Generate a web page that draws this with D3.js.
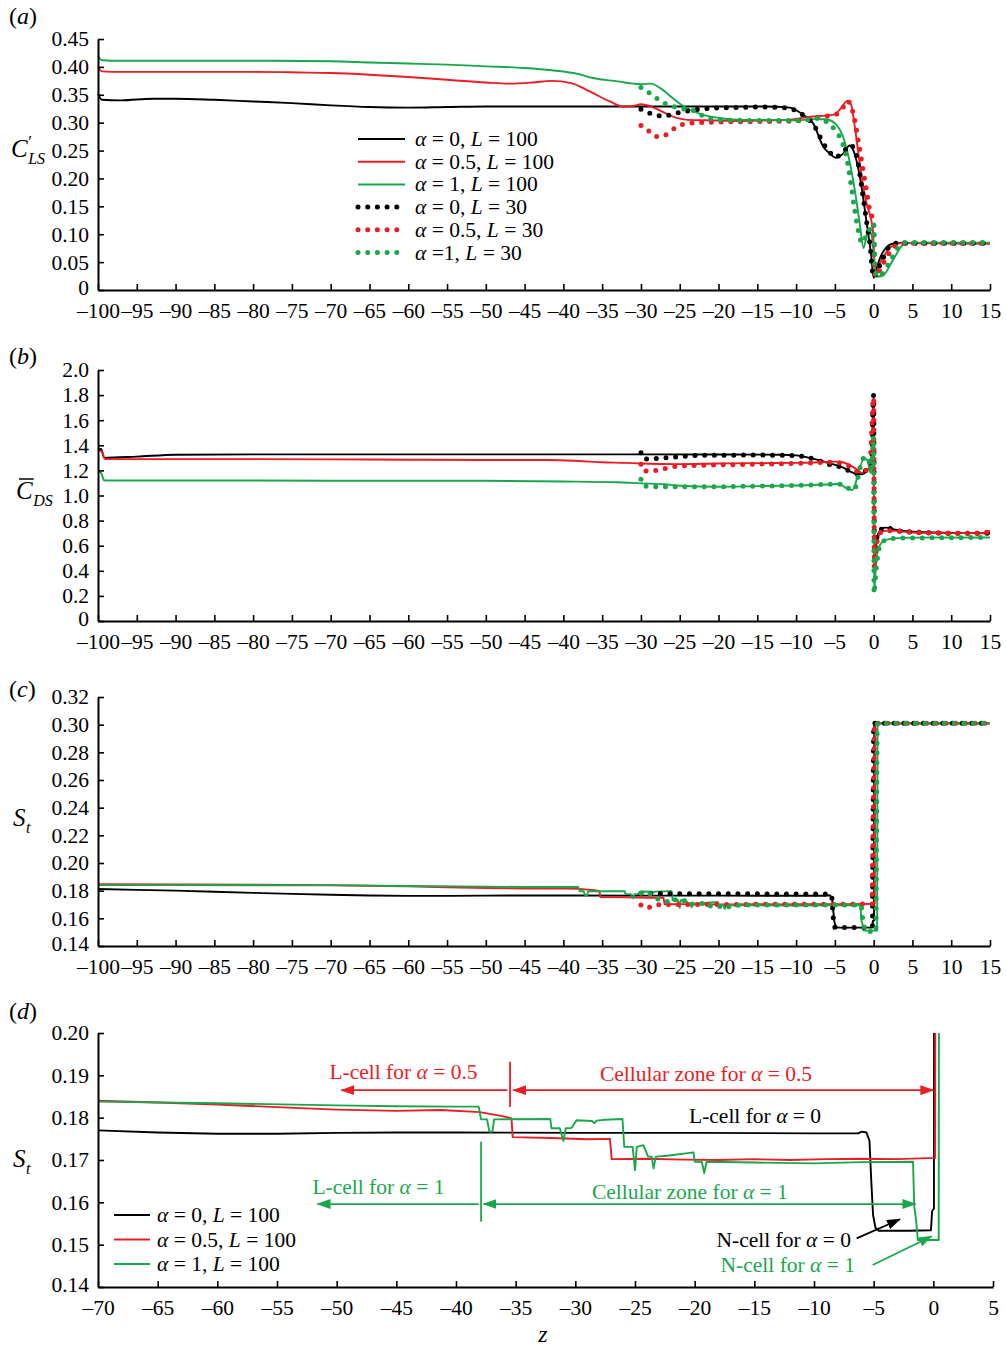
<!DOCTYPE html>
<html><head><meta charset="utf-8">
<script src="https://cdn.jsdelivr.net/npm/d3@7"></script>
<style>
body{margin:0;background:#fff;}
svg text{font-family:"Liberation Serif","Times New Roman",serif;white-space:pre;}
</style></head><body>
<svg id="c" width="1006" height="1347"></svg>
<script>
// ---------------- DATA ----------------
const xTicksLong = [-100,-95,-90,-85,-80,-75,-70,-65,-60,-55,-50,-45,-40,-35,-30,-25,-20,-15,-10,-5,0,5,10,15];
const xTicksD = [-70,-65,-60,-55,-50,-45,-40,-35,-30,-25,-20,-15,-10,-5,0,5];
const yTicksA = [0,0.05,0.10,0.15,0.20,0.25,0.30,0.35,0.40,0.45];
const yTicksB = [0,0.2,0.4,0.6,0.8,1.0,1.2,1.4,1.6,1.8,2.0];
const yTicksC = [0.14,0.16,0.18,0.20,0.22,0.24,0.26,0.28,0.30,0.32];
const yTicksD = [0.14,0.15,0.16,0.17,0.18,0.19,0.20];

const legendA = ["*α* = 0, *L* = 100","*α* = 0.5, *L* = 100","*α* = 1, *L* = 100","*α* = 0, *L* = 30","*α* = 0.5, *L* = 30","*α* =1, *L* = 30"];
const legendD = ["*α* = 0, *L* = 100","*α* = 0.5, *L* = 100","*α* = 1, *L* = 100"];

// (a) C'_LS
const clA0L100 = [[-100,0.352],[-99.5,0.341],[-97,0.340],[-93,0.343],[-90,0.343],[-85,0.341],[-80,0.338],[-75,0.335],[-70,0.331],[-65,0.328],[-60,0.327],[-55,0.328],[-50,0.329],[-45,0.329],[-40,0.329],[-30,0.329],[-20,0.329],[-14,0.329],[-10.8,0.327],[-9.1,0.314],[-7.8,0.299],[-6.5,0.257],[-5.6,0.244],[-4.9,0.237],[-3.9,0.245],[-3.1,0.259],[-2.6,0.250],[-1.8,0.205],[-0.9,0.120],[-0.3,0.060],[0,0.022],[0.4,0.040],[0.9,0.060],[1.5,0.074],[2.2,0.082],[3,0.084],[15,0.084]];
const clA05L100 = [[-100,0.400],[-99.5,0.392],[-97,0.391],[-90,0.391],[-80,0.391],[-74,0.390],[-70,0.389],[-65,0.386],[-60,0.382],[-55,0.377],[-50,0.372],[-47,0.370],[-44,0.372],[-41.5,0.375],[-39,0.371],[-36.6,0.356],[-34,0.338],[-32.3,0.329],[-31,0.330],[-30,0.333],[-28.5,0.328],[-27,0.318],[-25.5,0.309],[-24,0.305],[-20,0.304],[-17,0.303],[-14,0.304],[-11,0.305],[-8.6,0.310],[-6,0.313],[-5,0.315],[-4.2,0.326],[-3.4,0.339],[-2.9,0.332],[-2.4,0.290],[-1.8,0.227],[-1,0.160],[-0.1,0.107],[0.2,0.027],[0.8,0.048],[1.5,0.065],[2.3,0.078],[3.6,0.084],[15,0.083]];
const clA1L100 = [[-100,0.420],[-99.5,0.412],[-97,0.411],[-90,0.411],[-80,0.411],[-70,0.410],[-65,0.408],[-60,0.406],[-55,0.404],[-50,0.401],[-45,0.398],[-41.5,0.394],[-38,0.387],[-36.2,0.380],[-33,0.374],[-31,0.370],[-30,0.369],[-28.7,0.370],[-27.5,0.362],[-26,0.345],[-24.8,0.332],[-22.2,0.315],[-19.7,0.308],[-17,0.305],[-13,0.305],[-10,0.304],[-8,0.306],[-6.2,0.306],[-5,0.299],[-3.8,0.269],[-2.5,0.185],[-1.8,0.120],[-1.3,0.075],[-0.7,0.108],[-0.3,0.100],[0.4,0.024],[1.2,0.026],[2.5,0.054],[3.8,0.081],[5,0.085],[15,0.085]];
const clA0L30 = [[-30,0.324],[-28.5,0.315],[-27,0.312],[-26,0.315],[-24.5,0.320],[-23.5,0.322],[-22,0.325],[-18,0.327],[-14,0.328],[-11,0.326],[-9.5,0.317],[-8.3,0.305],[-7.6,0.293],[-6.5,0.263],[-5.7,0.248],[-5,0.238],[-4,0.246],[-3,0.260],[-2.5,0.252],[-2,0.227],[-1.5,0.180],[-1,0.131],[-0.5,0.084],[0,0.023],[0.5,0.036],[1,0.050],[2,0.078],[3,0.084],[15,0.084]];
const clA05L30 = [[-30,0.295],[-29,0.285],[-28,0.275],[-27,0.277],[-26,0.287],[-25,0.295],[-24,0.299],[-20,0.301],[-15,0.302],[-10,0.303],[-8,0.308],[-6,0.312],[-5,0.314],[-4,0.326],[-3.4,0.339],[-3,0.333],[-2.5,0.308],[-2,0.269],[-1.5,0.227],[-1,0.185],[-0.5,0.143],[0,0.120],[0.1,0.036],[0.3,0.024],[0.8,0.036],[1.5,0.054],[2.5,0.075],[3.5,0.084],[15,0.084]];
const clA1L30 = [[-30,0.363],[-29,0.354],[-28,0.344],[-27,0.335],[-26,0.330],[-25,0.326],[-24,0.323],[-23,0.321],[-22,0.312],[-21,0.307],[-20,0.305],[-15,0.304],[-10,0.304],[-8,0.306],[-7,0.308],[-6,0.301],[-5,0.287],[-4,0.263],[-3.5,0.239],[-3,0.197],[-2.5,0.149],[-2,0.108],[-1.5,0.084],[-1,0.096],[-0.5,0.109],[0,0.120],[0.2,0.036],[0.5,0.024],[1,0.028],[2,0.048],[3,0.073],[4,0.085],[15,0.085]];

// (b) mean C_DS
const cdA0L100 = [[-100,1.36],[-99.6,1.37],[-99.2,1.30],[-95,1.31],[-90,1.325],[-80,1.328],[-60,1.328],[-40,1.328],[-20,1.327],[-12,1.325],[-10,1.32],[-8,1.296],[-6,1.262],[-4,1.225],[-2.5,1.177],[-1.5,1.169],[-0.8,1.203],[-0.3,1.256],[0,1.80],[0.1,0.50],[0.3,0.62],[0.6,0.70],[1.5,0.744],[3,0.725],[5,0.711],[10,0.702],[15,0.699]];
const cdA05L100 = [[-100,1.36],[-99.5,1.35],[-99.1,1.29],[-90,1.29],[-80,1.29],[-70,1.288],[-60,1.285],[-50,1.283],[-42,1.283],[-38,1.275],[-35,1.265],[-32,1.26],[-30,1.255],[-25,1.25],[-20,1.255],[-15,1.258],[-10,1.26],[-7,1.265],[-5,1.27],[-4,1.265],[-3,1.24],[-2,1.20],[-1.5,1.18],[-0.8,1.21],[-0.2,1.24],[0,1.76],[0.1,0.43],[0.3,0.59],[1,0.71],[2,0.72],[5,0.705],[10,0.70],[14,0.70],[15,0.72]];
const cdA1L100 = [[-100,1.19],[-99.6,1.18],[-99.2,1.12],[-90,1.12],[-70,1.118],[-50,1.117],[-40,1.112],[-33,1.105],[-30,1.097],[-27,1.09],[-25,1.078],[-20,1.070],[-15,1.075],[-10,1.08],[-6,1.088],[-4.5,1.092],[-3.5,1.057],[-2.8,1.044],[-2.4,1.08],[-2,1.18],[-1.2,1.296],[-0.8,1.28],[-0.4,1.18],[0,1.47],[0.05,0.233],[0.3,0.45],[0.7,0.59],[1.5,0.645],[3,0.66],[5,0.664],[15,0.665]];
const cdA0L30 = [[-30,1.34],[-29.6,1.29],[-28,1.295],[-27,1.30],[-25,1.31],[-22,1.32],[-15,1.322],[-10,1.318],[-9,1.31],[-8,1.296],[-7,1.275],[-5,1.235],[-4,1.225],[-3,1.19],[-2.5,1.177],[-1.5,1.175],[-1,1.20],[-0.3,1.245],[0,1.80],[0.1,0.50],[0.3,0.62],[0.6,0.70],[1.5,0.745],[3,0.72],[5,0.71],[10,0.70],[15,0.70]];
const cdA05L30 = [[-30,1.25],[-29.6,1.195],[-28,1.20],[-26.5,1.22],[-25,1.235],[-22,1.24],[-15,1.25],[-10,1.255],[-5,1.265],[-4,1.255],[-3,1.23],[-2,1.19],[-1,1.20],[-0.5,1.24],[0,1.78],[0.1,0.42],[0.3,0.59],[1,0.71],[2,0.72],[5,0.705],[10,0.70],[14,0.70],[15,0.72]];
const cdA1L30 = [[-30,1.13],[-29.6,1.075],[-28,1.07],[-25,1.07],[-20,1.07],[-15,1.075],[-10,1.08],[-5,1.09],[-4,1.09],[-3.3,1.06],[-2.5,1.045],[-2,1.15],[-1.5,1.28],[-1,1.31],[-0.6,1.28],[-0.3,1.21],[0,1.47],[0.05,0.22],[0.3,0.40],[0.8,0.60],[1.5,0.645],[3,0.66],[15,0.665]];

// (c),(d) St
const stA0L100 = [[-100,0.1812],[-95,0.1806],[-90,0.1800],[-85,0.1792],[-80,0.1784],[-75,0.1777],[-70,0.1770],[-65,0.1765],[-60,0.1762],[-55,0.1762],[-50,0.1764],[-45,0.1765],[-40,0.1765],[-30,0.1764],[-20,0.1764],[-10,0.1763],[-6.3,0.1763],[-6.0,0.1767],[-5.6,0.1765],[-5.35,0.1745],[-5.2,0.1650],[-5.05,0.1570],[-4.85,0.1540],[-4.6,0.1533],[-2,0.1533],[-0.2,0.1534],[-0.1,0.1580],[0.05,0.1585],[0.08,0.301],[15,0.301]];
const stA05L100 = [[-100,0.1846],[-90,0.1845],[-80,0.1843],[-70,0.1840],[-65,0.1836],[-60,0.1831],[-55,0.1825],[-50,0.1819],[-45,0.1816],[-41.3,0.1818],[-38,0.1813],[-36,0.1803],[-35.35,0.1798],[-35.25,0.1754],[-32,0.1752],[-29,0.1749],[-27.1,0.1750],[-26.95,0.1702],[-24,0.1703],[-21,0.1701],[-18,0.1700],[-15,0.1702],[-12,0.1700],[-9,0.1702],[-6,0.1703],[-3,0.1702],[0.15,0.1705],[0.2,0.301],[15,0.301]];
const stA1L100 = [[-100,0.1840],[-90,0.1840],[-80,0.1839],[-70,0.1838],[-60,0.1834],[-50,0.1829],[-45,0.1827],[-40,0.1826],[-38.1,0.1826],[-37.9,0.1796],[-37.4,0.1796],[-37.2,0.1767],[-36.95,0.1767],[-36.8,0.1796],[-32.1,0.1797],[-32.0,0.1775],[-31.3,0.1775],[-31.0,0.1745],[-30.8,0.1775],[-30.3,0.1776],[-29.9,0.1794],[-28.6,0.1792],[-28.4,0.1787],[-28.2,0.1793],[-27.5,0.1795],[-26.05,0.1797],[-25.9,0.1731],[-25.2,0.1731],[-25.0,0.1676],[-24.85,0.1731],[-24.3,0.1735],[-23.9,0.1708],[-23.6,0.1708],[-23.45,0.1680],[-23.25,0.1708],[-22.3,0.1710],[-20.1,0.1718],[-20.0,0.1696],[-19.4,0.1696],[-19.2,0.1669],[-19.0,0.1696],[-15,0.1694],[-10,0.1692],[-6,0.1695],[-1.7,0.1696],[-1.6,0.1590],[-1.45,0.1560],[-1.3,0.1511],[0.45,0.1511],[0.5,0.301],[15,0.301]];
const stA0L30 = [[-30,0.1781],[-28,0.1779],[-25,0.1777],[-20,0.1777],[-15,0.1777],[-10,0.1776],[-5.6,0.1775],[-5.4,0.1760],[-5.2,0.1600],[-5.0,0.1535],[-2,0.1533],[-0.3,0.1535],[-0.15,0.1540],[0.0,0.301],[15,0.301]];
const stA05L30 = [[-30,0.1696],[-29.2,0.1672],[-28.3,0.1696],[-27,0.1700],[-25,0.1700],[-20,0.1700],[-15,0.1701],[-10,0.1701],[-5,0.1702],[-0.2,0.1703],[0.1,0.301],[15,0.301]];
const stA1L30 = [[-30,0.1781],[-29,0.1788],[-28.2,0.1745],[-27.3,0.1733],[-26.5,0.1720],[-26,0.1745],[-25,0.1720],[-24,0.1733],[-23.5,0.1704],[-22,0.1708],[-21.5,0.1684],[-20.5,0.1696],[-19.7,0.1684],[-19,0.1672],[-18.5,0.1690],[-17,0.1696],[-10,0.1697],[-5,0.1697],[-1.6,0.1697],[-1.4,0.1590],[-1.1,0.1504],[0.3,0.1504],[0.45,0.301],[15,0.301]];

// (d) annotations: text, z, St
const annText = ["L-cell for *α* = 0.5","Cellular zone for *α* = 0.5","L-cell for *α* = 0","L-cell for *α* = 1","Cellular zone for *α* = 1","N-cell for *α* = 0","N-cell for *α* = 1"];
const annZ = [-44.4,-19.05,-14.94,-46.5,-20.4,-6.9,-6.56];
const annSt = [0.1891,0.1887,0.1787,0.1620,0.1608,0.1494,0.1435];
// arrows: [z1, St1, z2, St2]  (head at z2)
const arrowsRed = [[-35.7,0.1865,-49.6,0.1865]];
const arrowsRedBoth = [[-35.2,0.1865,0.0,0.1865]];
const arrowsGreen = [[-38.1,0.1596,-51.6,0.1596],[-5.08,0.1452,-0.14,0.1520]];
const arrowsGreenBoth = [[-37.7,0.1596,-1.5,0.1596]];
const arrowsBlack = [[-6.43,0.1515,-2.79,0.1560]];
const markRed = [-35.47,0.1932,0.1825];   // z, St top, St bottom
const markGreen = [-37.9,0.1743,0.1554];

// ---------------- DRAWING ----------------
const RED="#ec1c24", GREEN="#18a84b", BLACK="#000000";
const FS = 21.5;
const svg = d3.select("#c");
const defs = svg.append("defs");
function marker(id,color){
  defs.append("marker").attr("id",id).attr("viewBox","0 0 14 10").attr("refX",13).attr("refY",5)
    .attr("markerWidth",14).attr("markerHeight",10).attr("markerUnits","userSpaceOnUse")
    .attr("orient","auto-start-reverse")
    .append("path").attr("d","M0,0 L14,5 L0,10 Z").attr("fill",color);
}
marker("mR",RED); marker("mG",GREEN); marker("mK",BLACK);

function rich(sel,str){
  str.split("*").forEach((s,i)=>{ if(!s) return; sel.append("tspan").text(s).attr("font-style", i%2 ? "italic":"normal"); });
  return sel;
}
const fmtX = d => d<0 ? "\u2013"+Math.abs(d) : String(d);

function panel(o){
  const x = d3.scaleLinear().domain(o.xDomain).range([o.left,o.right]);
  const y = d3.scaleLinear().domain(o.yDomain).range([o.bottom,o.top]);
  const g = svg.append("g");
  const id = "clip_"+o.name;
  defs.append("clipPath").attr("id",id).append("rect")
    .attr("x",o.left-o.clipPad).attr("y",o.clipTop)
    .attr("width",o.right-o.left+o.clipPad+6).attr("height",o.bottom-o.clipTop);
  const line = d3.line().x(d=>x(d[0])).y(d=>y(d[1])).curve(o.curve);
  const lg = g.append("g").attr("clip-path",`url(#${id})`);
  o.solid.forEach(s=>{
    lg.append("path").datum(s.data).attr("d",line).attr("fill","none")
      .attr("stroke",s.color).attr("stroke-width",1.9).attr("stroke-linejoin","round");
  });
  (o.dotted||[]).forEach(s=>{
    lg.append("path").datum(s.data).attr("d",line).attr("fill","none")
      .attr("stroke",s.color).attr("stroke-width",5).attr("stroke-linecap","round")
      .attr("stroke-dasharray","0 9.7");
  });
  const ax = g.append("g").attr("transform",`translate(0,${o.bottom})`)
    .call(d3.axisBottom(x).tickValues(o.xTicks).tickSize(-6).tickSizeOuter(0).tickPadding(13).tickFormat(fmtX));
  const ay = g.append("g").attr("transform",`translate(${o.left},0)`)
    .call(d3.axisLeft(y).tickValues(o.yTicks).tickSize(-6).tickSizeOuter(0).tickPadding(9).tickFormat(o.yFmt));
  [ax,ay].forEach(a=>{
    a.attr("font-family",null).attr("font-size",null);
    a.select(".domain").attr("stroke","#000").attr("stroke-width",2);
    a.selectAll(".tick line").attr("stroke","#000").attr("stroke-width",1.6);
    a.selectAll(".tick text").attr("fill","#000").attr("font-size",FS);
  });
  // lift the bottom-most y label a little so it clears the x labels
  ay.selectAll(".tick text").filter(d=>d===o.yDomain[0]).attr("dy","0.2em");
  return {g,x,y};
}

// Panel (a)
const pa = panel({name:"a",left:98,right:990,top:39,bottom:290,clipTop:30,clipPad:4,
  xDomain:[-100,15],yDomain:[0,0.45],xTicks:xTicksLong,yTicks:yTicksA,
  yFmt:d=>d===0?"0":d3.format(".2f")(d),curve:d3.curveMonotoneX,
  solid:[{data:clA0L100,color:BLACK},{data:clA05L100,color:RED},{data:clA1L100,color:GREEN}],
  dotted:[{data:clA0L30,color:BLACK},{data:clA05L30,color:RED},{data:clA1L30,color:GREEN}]});
// Panel (b)
const pb = panel({name:"b",left:98,right:990,top:370,bottom:621,clipTop:362,clipPad:4,
  xDomain:[-100,15],yDomain:[0,2.0],xTicks:xTicksLong,yTicks:yTicksB,
  yFmt:d=>d===0?"0":d3.format(".1f")(d),curve:d3.curveMonotoneX,
  solid:[{data:cdA0L100,color:BLACK},{data:cdA05L100,color:RED},{data:cdA1L100,color:GREEN}],
  dotted:[{data:cdA0L30,color:BLACK},{data:cdA05L30,color:RED},{data:cdA1L30,color:GREEN}]});
// Panel (c)
const pc = panel({name:"c",left:98,right:990,top:697,bottom:946,clipTop:690,clipPad:4,
  xDomain:[-100,15],yDomain:[0.14,0.32],xTicks:xTicksLong,yTicks:yTicksC,
  yFmt:d3.format(".2f"),curve:d3.curveLinear,
  solid:[{data:stA0L100,color:BLACK},{data:stA05L100,color:RED},{data:stA1L100,color:GREEN}],
  dotted:[{data:stA0L30,color:BLACK},{data:stA05L30,color:RED},{data:stA1L30,color:GREEN}]});
// Panel (d)
const pd = panel({name:"d",left:98,right:993,top:1033,bottom:1287,clipTop:1033,clipPad:0,
  xDomain:[-70,5],yDomain:[0.14,0.20],xTicks:xTicksD,yTicks:yTicksD,
  yFmt:d3.format(".2f"),curve:d3.curveLinear,
  solid:[{data:stA0L100,color:BLACK},{data:stA05L100,color:RED},{data:stA1L100,color:GREEN}],
  dotted:[]});

// Legend (a)
const colorsA = [BLACK,RED,GREEN,BLACK,RED,GREEN];
legendA.forEach((t,i)=>{
  const yy = 139 + i*22.7;
  const ln = pa.g.append("line").attr("x1",358).attr("x2",i<3?405:400).attr("y1",yy).attr("y2",yy)
    .attr("stroke",colorsA[i]);
  if(i<3) ln.attr("stroke-width",2);
  else ln.attr("stroke-width",5).attr("stroke-linecap","round").attr("stroke-dasharray","0 9.7");
  rich(pa.g.append("text").attr("x",415).attr("y",yy+7).attr("font-size",FS).attr("fill","#000"),t);
});
// Legend (d)
const colorsD = [BLACK,RED,GREEN];
legendD.forEach((t,i)=>{
  const yy = 1215 + i*24.5;
  pd.g.append("line").attr("x1",114).attr("x2",150).attr("y1",yy).attr("y2",yy)
    .attr("stroke",colorsD[i]).attr("stroke-width",2);
  rich(pd.g.append("text").attr("x",157).attr("y",yy+7).attr("font-size",FS).attr("fill","#000"),t);
});

// Annotations (d)
const annColor = [RED,RED,BLACK,GREEN,GREEN,BLACK,GREEN];
const annAnchor = ["middle","middle","middle","middle","middle","end","end"];
annText.forEach((t,i)=>{
  rich(pd.g.append("text").attr("x",pd.x(annZ[i])).attr("y",pd.y(annSt[i]))
    .attr("text-anchor",annAnchor[i]).attr("font-size",FS).attr("fill",annColor[i]),t);
});
function arrows(list,color,mk,both){
  list.forEach(a=>{
    const l = pd.g.append("line").attr("x1",pd.x(a[0])).attr("y1",pd.y(a[1]))
      .attr("x2",pd.x(a[2])).attr("y2",pd.y(a[3])).attr("stroke",color).attr("stroke-width",1.8)
      .attr("marker-end",`url(#${mk})`);
    if(both) l.attr("marker-start",`url(#${mk})`);
  });
}
arrows(arrowsRed,RED,"mR",false);
arrows(arrowsRedBoth,RED,"mR",true);
arrows(arrowsGreen,GREEN,"mG",false);
arrows(arrowsGreenBoth,GREEN,"mG",true);
arrows(arrowsBlack,BLACK,"mK",false);
[[markRed,RED],[markGreen,GREEN]].forEach(([m,c])=>{
  pd.g.append("line").attr("x1",pd.x(m[0])).attr("x2",pd.x(m[0])).attr("y1",pd.y(m[1])).attr("y2",pd.y(m[2]))
    .attr("stroke",c).attr("stroke-width",1.8);
});

// Panel letters
[["a",24],["b",364],["c",697],["d",1019]].forEach(([l,yy])=>{
  const t = svg.append("text").attr("x",9).attr("y",yy).attr("font-size",24).attr("fill","#000");
  rich(t,"(*"+l+"*)");
});

// Axis titles
function yTitle(main,sub,xx,yy,prime,bar){
  const t = svg.append("text").attr("x",xx).attr("y",yy).attr("font-size",25).attr("font-style","italic").attr("fill","#000").text(main);
  const w = t.node().getComputedTextLength();
  if(prime) svg.append("text").attr("x",xx+w+0.5).attr("y",yy-10).attr("font-size",17).attr("fill","#000").text("\u2032");
  if(bar) svg.append("line").attr("x1",xx+3).attr("x2",xx+w+1).attr("y1",yy-20).attr("y2",yy-20).attr("stroke","#000").attr("stroke-width",1.5);
  svg.append("text").attr("x",xx+w+0.5).attr("y",yy+7).attr("font-size",16).attr("font-style","italic").attr("fill","#000").text(sub);
}
yTitle("C","LS",11,157,true,false);
yTitle("C","DS",16,499,false,true);
yTitle("S","t",13,826,false,false);
yTitle("S","t",13,1167,false,false);
svg.append("text").attr("x",543).attr("y",1342).attr("text-anchor","middle").attr("font-size",24)
  .attr("font-style","italic").attr("fill","#000").text("z");
</script></body></html>
